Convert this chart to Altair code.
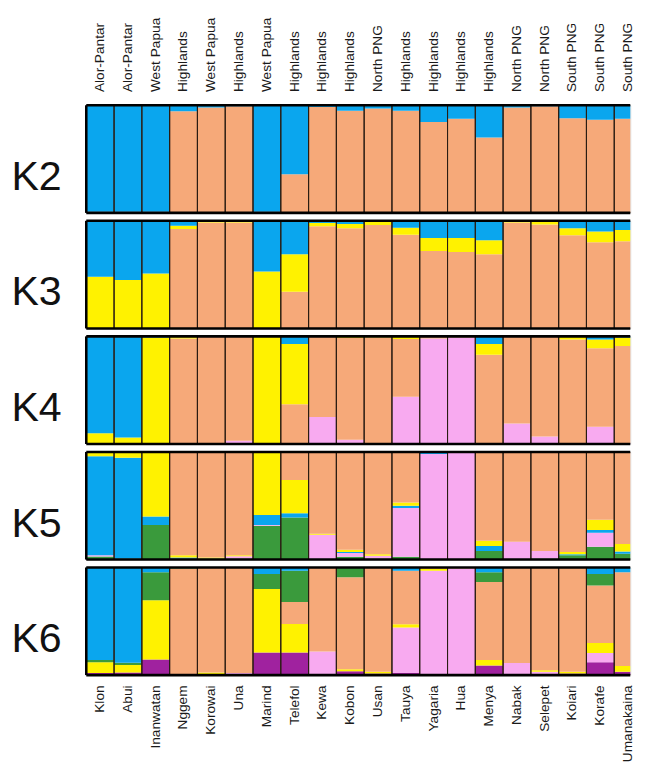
import altair as alt
import pandas as pd

populations = ["Klon", "Abui", "Inanwatan", "Nggem", "Korowai", "Una", "Marind", "Telefol",
               "Kewa", "Kobon", "Usan", "Tauya", "Yagaria", "Hua", "Menya", "Nabak",
               "Selepet", "Koiari", "Korafe", "Umanakaina"]
regions = ["Alor-Pantar", "Alor-Pantar", "West Papua", "Highlands", "West Papua", "Highlands",
           "West Papua", "Highlands", "Highlands", "Highlands", "North PNG", "Highlands",
           "Highlands", "Highlands", "Highlands", "North PNG", "North PNG", "South PNG",
           "South PNG", "South PNG"]

# ancestry proportions per K (component order listed bottom -> top)
k2_salmon = [.01, .01, .01, .945, .98, .99, .01, .36, .985, .95, .97, .95, .845, .875, .70, .98, .99, .88, .865, .875]
k2_blue = [.99, .99, .99, .055, .02, .01, .99, .64, .015, .05, .03, .05, .155, .125, .30, .02, .01, .12, .135, .125]

k3_salmon = [0, 0, 0, .925, .985, .985, 0, .34, .95, .93, .96, .87, .72, .71, .69, .985, .965, .865, .80, .81]
k3_yellow = [.48, .45, .51, .03, .01, .01, .53, .35, .03, .04, .03, .065, .12, .13, .13, .01, .025, .065, .10, .105]
k3_blue = [.52, .55, .49, .045, .005, .005, .47, .31, .02, .03, .01, .065, .16, .16, .18, .005, .01, .07, .10, .085]

k4_pink = [0, 0, 0, 0, 0, .03, 0, 0, .25, .04, .01, .44, .98, .99, 0, .19, .07, .01, .16, .01]
k4_salmon = [0, 0, 0, .98, 1.0, .97, .005, .37, .745, .945, .98, .535, .02, .01, .83, .81, .925, .96, .73, .90]
k4_yellow = [.10, .06, .99, .02, 0, 0, .99, .56, .005, .015, .01, .025, 0, 0, .10, 0, .005, .03, .08, .08]
k4_blue = [.90, .94, .01, 0, 0, 0, .005, .07, 0, 0, 0, 0, 0, 0, .07, 0, 0, 0, .03, .01]

k5_green = [.028, .01, .32, .01, .01, .01, .315, .39, 0, .025, .01, .025, 0, 0, .08, 0, .01, .04, .12, .055]
k5_pink = [.012, 0, 0, 0, 0, .02, .005, 0, .23, .035, .025, .455, .98, .99, 0, .165, .07, 0, .13, 0]
k5_blue = [.92, .935, .08, .01, 0, 0, .095, .04, 0, .01, 0, .02, .015, 0, .047, 0, 0, .01, .025, .02]
k5_yellow = [.04, .055, .60, .02, .01, .01, .585, .31, .01, .02, .015, .03, 0, 0, .047, 0, 0, .02, .095, .07]
k5_salmon = [0, 0, 0, .96, .98, .96, 0, .26, .76, .91, .95, .47, .005, .01, .826, .835, .92, .93, .63, .855]

k6_purple = [.02, .025, .145, .01, .01, .01, .21, .21, 0, .035, .015, .02, 0, 0, .09, 0, .01, .015, .12, .03]
k6_pink = [0, 0, 0, 0, 0, .01, 0, 0, .22, 0, 0, .42, .97, .99, 0, .113, .02, 0, .086, 0]
k6_yellow = [.10, .07, .55, 0, .015, 0, .59, .263, 0, .02, .015, .03, .015, 0, .05, 0, .015, .015, .092, .055]
k6_salmon = [0, 0, 0, .98, .975, .98, 0, .205, .78, .855, .97, .495, .015, .01, .725, .887, .955, .97, .535, .87]
k6_green = [.02, .02, .26, .01, 0, 0, .14, .29, 0, .09, 0, 0, 0, 0, .09, 0, 0, 0, .107, 0]
k6_blue = [.86, .885, .045, 0, 0, 0, .06, .03, 0, 0, 0, .03, 0, 0, .045, 0, 0, 0, .06, .045]

k_data = {
    "K2": [("salmon", k2_salmon), ("blue", k2_blue)],
    "K3": [("salmon", k3_salmon), ("yellow", k3_yellow), ("blue", k3_blue)],
    "K4": [("pink", k4_pink), ("salmon", k4_salmon), ("yellow", k4_yellow), ("blue", k4_blue)],
    "K5": [("green", k5_green), ("pink", k5_pink), ("blue", k5_blue), ("yellow", k5_yellow), ("salmon", k5_salmon)],
    "K6": [("purple", k6_purple), ("pink", k6_pink), ("yellow", k6_yellow), ("salmon", k6_salmon),
           ("green", k6_green), ("blue", k6_blue)],
}

comp_names = ["blue", "salmon", "yellow", "pink", "green", "purple"]
comp_colors = ["#0aa6ee", "#f6a979", "#fff200", "#f8aaf0", "#3a9a3c", "#a0229f"]

FONT = "Liberation Sans"
W = 556          # visible plot width
FULL = 568       # width the 20 columns would need (last one is cut off)
H = 110

pop_js = "[" + ",".join("'%s'" % p for p in populations) + "]"
reg_js = "[" + ",".join("'%s'" % r for r in regions) + "]"


def panel(k, first, last):
    rows = []
    for rank, (comp, vals) in enumerate(k_data[k]):
        for p, v in zip(populations, vals):
            rows.append({"pop": p, "comp": comp, "value": v, "rank": rank})
    df = pd.DataFrame(rows)
    xs = alt.Scale(domain=populations, range=[0, FULL], paddingInner=0, paddingOuter=0)
    ys = alt.Scale(domain=[0, 1], nice=False)

    if first:
        xaxis = alt.Axis(orient="top", labelAngle=-90, labelExpr=reg_js + "[indexof(" + pop_js + ", datum.value)]",
                         ticks=False, domain=False, grid=False, labelPadding=14, labelFontSize=14, labelFont=FONT,
                         labelColor="#1a1a1a", title=None, labelOverlap=False, labelAlign="left",
                         labelBaseline="middle")
    elif last:
        xaxis = alt.Axis(orient="bottom", labelAngle=-90, ticks=False, domain=False, grid=False, labelPadding=10,
                         labelFontSize=14, labelFont=FONT, labelColor="#1a1a1a", title=None,
                         labelOverlap=False, labelAlign="right", labelBaseline="middle")
    else:
        xaxis = None

    yaxis = alt.Axis(title=k, labels=False, ticks=False, domain=False, grid=False,
                     titleAngle=0, titleFontSize=42, titleFont=FONT, titleFontWeight="normal",
                     titleAlign="left", titleBaseline="alphabetic", titleX=-77, titleY=86,
                     titleColor="#111111")

    bars = alt.Chart(df).mark_bar(clip=True, strokeWidth=0).encode(
        x=alt.X("pop:N", scale=xs, axis=xaxis),
        y=alt.Y("value:Q", stack="normalize", scale=ys, axis=yaxis),
        color=alt.Color("comp:N", scale=alt.Scale(domain=comp_names, range=comp_colors), legend=None),
        order=alt.Order("rank:Q", sort="ascending"),
    )

    cols = pd.DataFrame({"pop": populations, "lo": [0] * len(populations), "hi": [1] * len(populations)})
    outlines = alt.Chart(cols).mark_bar(clip=True, fillOpacity=0, stroke="#2a1c12", strokeWidth=1.1).encode(
        x=alt.X("pop:N", scale=xs, axis=xaxis),
        y=alt.Y("lo:Q", scale=ys, axis=yaxis),
        y2="hi:Q",
    )

    edges = pd.DataFrame({"edge": [0, 1]})
    hborder = alt.Chart(edges).mark_rule(color="black", strokeWidth=2.6).encode(
        y=alt.Y("edge:Q", scale=ys, axis=yaxis), x=alt.value(0), x2=alt.value(W))
    vborder = alt.Chart(edges.head(1)).mark_rule(color="black", strokeWidth=2.6).encode(
        x=alt.value(0), y=alt.value(0), y2=alt.value(H))

    return alt.layer(bars, outlines, hborder, vborder).properties(width=W, height=H)


keys = ["K2", "K3", "K4", "K5", "K6"]
charts = [panel(k, i == 0, i == len(keys) - 1) for i, k in enumerate(keys)]

chart = alt.vconcat(*charts, spacing=4.1).properties(
    padding={"left": 2, "top": 0, "right": 0, "bottom": 0}
).configure_view(stroke=None).configure(background="white")

chart.save("out.html", embed_options={"renderer": "svg", "actions": False})
